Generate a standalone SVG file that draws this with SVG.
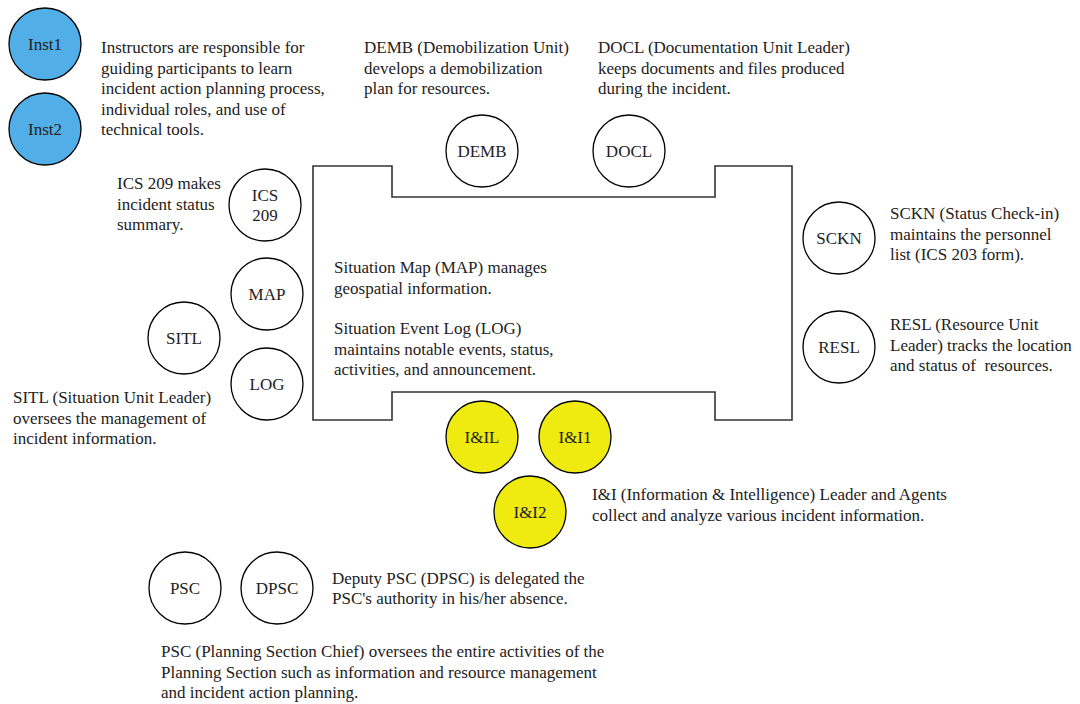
<svg xmlns="http://www.w3.org/2000/svg" width="1080" height="704" viewBox="0 0 1080 704">
  <style>
    .node { stroke: #000; stroke-width: 1.3; fill: #fff; }
    .inst { fill: #52AEE6; }
    .ii { fill: #EFEA10; }
    .lbl { font-family: "Liberation Serif", "Times New Roman", serif; font-size: 17px; fill: #222; text-anchor: middle; dominant-baseline: central; }
    .txt { font-family: "Liberation Serif", "Times New Roman", serif; font-size: 17px; fill: #222; }
    .table { fill: none; stroke: #333; stroke-width: 1.6; }
  </style>

  <!-- table outline in the middle of the room -->
  <g id="connectors">
    <path class="table" d="M313,166 H392 V197 H715 V166 H792 V420 H715 V392 H392 V420 H313 Z"/>
  </g>

  <!-- instructors -->
  <g id="inst1">
    <circle class="node inst" cx="45" cy="44" r="36"/>
    <text class="lbl" x="45" y="44">Inst1</text>
  </g>
  <g id="inst2">
    <circle class="node inst" cx="45" cy="129" r="36"/>
    <text class="lbl" x="45" y="129">Inst2</text>
  </g>
  <text class="txt">
    <tspan x="101" y="53">Instructors are responsible for</tspan>
    <tspan x="101" y="73.5">guiding participants to learn</tspan>
    <tspan x="101" y="94">incident action planning process,</tspan>
    <tspan x="101" y="114.5">individual roles, and use of</tspan>
    <tspan x="101" y="135">technical tools.</tspan>
  </text>

  <!-- demobilization / documentation -->
  <g id="demb">
    <circle class="node" cx="482" cy="151" r="36"/>
    <text class="lbl" x="482" y="151">DEMB</text>
  </g>
  <text class="txt">
    <tspan x="364" y="53">DEMB (Demobilization Unit)</tspan>
    <tspan x="364" y="73.5">develops a demobilization</tspan>
    <tspan x="364" y="94">plan for resources.</tspan>
  </text>
  <g id="docl">
    <circle class="node" cx="629" cy="151" r="36"/>
    <text class="lbl" x="629" y="151">DOCL</text>
  </g>
  <text class="txt">
    <tspan x="598" y="53">DOCL (Documentation Unit Leader)</tspan>
    <tspan x="598" y="73.5">keeps documents and files produced</tspan>
    <tspan x="598" y="94">during the incident.</tspan>
  </text>

  <!-- situation unit -->
  <g id="ics209">
    <circle class="node" cx="265" cy="205" r="36"/>
    <text class="lbl" x="265" y="195">ICS</text>
    <text class="lbl" x="265" y="215">209</text>
  </g>
  <text class="txt">
    <tspan x="117" y="189">ICS 209 makes</tspan>
    <tspan x="117" y="209.5">incident status</tspan>
    <tspan x="117" y="230">summary.</tspan>
  </text>
  <g id="map">
    <circle class="node" cx="267" cy="294" r="36"/>
    <text class="lbl" x="267" y="294">MAP</text>
  </g>
  <g id="sitl">
    <circle class="node" cx="184" cy="338" r="36"/>
    <text class="lbl" x="184" y="338">SITL</text>
  </g>
  <g id="log">
    <circle class="node" cx="267" cy="384" r="36"/>
    <text class="lbl" x="267" y="384">LOG</text>
  </g>
  <text class="txt">
    <tspan x="13" y="403">SITL (Situation Unit Leader)</tspan>
    <tspan x="13" y="423.5">oversees the management of</tspan>
    <tspan x="13" y="444">incident information.</tspan>
  </text>
  <text class="txt">
    <tspan x="334" y="273">Situation Map (MAP) manages</tspan>
    <tspan x="334" y="293.5">geospatial information.</tspan>
    <tspan x="334" y="334">Situation Event Log (LOG)</tspan>
    <tspan x="334" y="354.5">maintains notable events, status,</tspan>
    <tspan x="334" y="375">activities, and announcement.</tspan>
  </text>

  <!-- resources unit -->
  <g id="sckn">
    <circle class="node" cx="839" cy="238" r="36"/>
    <text class="lbl" x="839" y="238">SCKN</text>
  </g>
  <text class="txt">
    <tspan x="890" y="219">SCKN (Status Check-in)</tspan>
    <tspan x="890" y="239.5">maintains the personnel</tspan>
    <tspan x="890" y="260">list (ICS 203 form).</tspan>
  </text>
  <g id="resl">
    <circle class="node" cx="839" cy="347" r="36"/>
    <text class="lbl" x="839" y="347">RESL</text>
  </g>
  <text class="txt">
    <tspan x="890" y="330">RESL (Resource Unit</tspan>
    <tspan x="890" y="350.5">Leader) tracks the location</tspan>
    <tspan x="890" y="371">and status of&#160; resources.</tspan>
  </text>

  <!-- information and intelligence -->
  <g id="iil">
    <circle class="node ii" cx="482" cy="437" r="36"/>
    <text class="lbl" x="482" y="437">I&amp;IL</text>
  </g>
  <g id="ii1">
    <circle class="node ii" cx="575" cy="437" r="36"/>
    <text class="lbl" x="575" y="437">I&amp;I1</text>
  </g>
  <g id="ii2">
    <circle class="node ii" cx="530" cy="512" r="36"/>
    <text class="lbl" x="530" y="512">I&amp;I2</text>
  </g>
  <text class="txt">
    <tspan x="592" y="500">I&amp;I (Information &amp; Intelligence) Leader and Agents</tspan>
    <tspan x="592" y="520.5">collect and analyze various incident information.</tspan>
  </text>

  <!-- section chief and deputy -->
  <g id="psc">
    <circle class="node" cx="185" cy="588" r="36"/>
    <text class="lbl" x="185" y="588">PSC</text>
  </g>
  <g id="dpsc">
    <circle class="node" cx="277" cy="588" r="36"/>
    <text class="lbl" x="277" y="588">DPSC</text>
  </g>
  <text class="txt">
    <tspan x="332" y="584">Deputy PSC (DPSC) is delegated the</tspan>
    <tspan x="332" y="604">PSC's authority in his/her absence.</tspan>
  </text>
  <text class="txt">
    <tspan x="161" y="657">PSC (Planning Section Chief) oversees the entire activities of the</tspan>
    <tspan x="161" y="677.5">Planning Section such as information and resource management</tspan>
    <tspan x="161" y="698">and incident action planning.</tspan>
  </text>
</svg>
